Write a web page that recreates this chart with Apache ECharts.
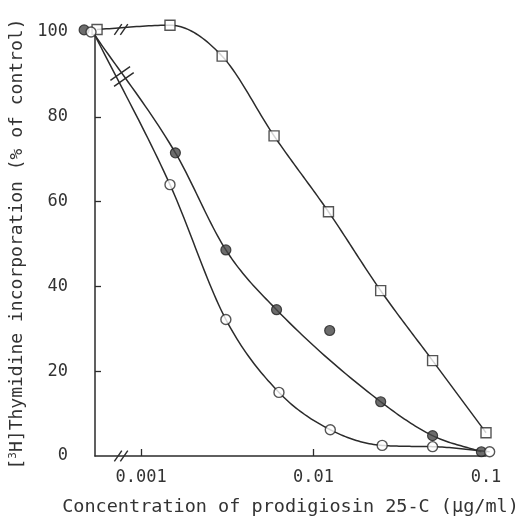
<!DOCTYPE html>
<html>
<head>
<meta charset="utf-8">
<script src="https://cdn.jsdelivr.net/npm/echarts@6/dist/echarts.min.js"></script>
<style>html,body{margin:0;padding:0;background:#fff}#c{width:527px;height:518px}</style>
</head>
<body>
<div id="c"></div>
<script>
// Concentrations (µg/ml) and % of control
const squareX = [0.000555, 0.00147, 0.00295, 0.0059, 0.0122, 0.0245, 0.049, 0.1];
const squareY = [100.6, 101.6, 94.3, 75.5, 57.6, 39, 22.5, 5.5];

// filled circles: first entry is the control at the axis (curve start)
const filledX = [0.00054, 0.00158, 0.0031, 0.0061, 0.0245, 0.049, 0.094];
const filledY = [99.2, 71.5, 48.6, 34.5, 12.8, 4.8, 1];
const filledOutlierX = [0.0124];
const filledOutlierY = [29.6];

// open circles: first entry is the control at the axis (curve start)
const openX = [0.00054, 0.00147, 0.0031, 0.0063, 0.0125, 0.025, 0.049, 0.105];
const openY = [99.2, 64, 32.2, 15, 6.2, 2.5, 2.2, 1];

// Control markers drawn at the axis (no drug)
const controlFilled = [[0.000467, 100.5]];
const controlOpen = [[0.000512, 100]];

const xTickValues = [0.001, 0.01, 0.1];
const xTickLabels = ['0.001', '0.01', '0.1'];
const xTickMarks = [0.001, 0.01];
const yTickValues = [20, 40, 60, 80];

// Axis/line break marks: [x, y]
const axisBreaks = [[0.000765, 0]];
const squareBreaks = [[0.000765, 100.6]];
const circleBreaks = [[0.000775, 89.5]];

const ink = '#2b2b2b';
const zip = (xs, ys) => xs.map((x, i) => [x, ys[i]]);

// monotone cubic (Fritsch-Carlson) through pixel points
function monotonePath(p) {
  const n = p.length;
  if (n < 2) return p;
  const d = [], m = new Array(n);
  for (let i = 0; i < n - 1; i++) d.push((p[i + 1][1] - p[i][1]) / (p[i + 1][0] - p[i][0]));
  m[0] = d[0]; m[n - 1] = d[n - 2];
  for (let i = 1; i < n - 1; i++) m[i] = (d[i - 1] * d[i] <= 0) ? 0 : (d[i - 1] + d[i]) / 2;
  for (let i = 0; i < n - 1; i++) {
    if (d[i] === 0) { m[i] = 0; m[i + 1] = 0; continue; }
    const a = m[i] / d[i], b = m[i + 1] / d[i], s = a * a + b * b;
    if (s > 9) { const t = 3 / Math.sqrt(s); m[i] = t * a * d[i]; m[i + 1] = t * b * d[i]; }
  }
  const out = [];
  for (let i = 0; i < n - 1; i++) {
    const x0 = p[i][0], x1 = p[i + 1][0], y0 = p[i][1], y1 = p[i + 1][1], h = x1 - x0;
    const steps = 24;
    for (let k = 0; k < steps; k++) {
      const t = k / steps, t2 = t * t, t3 = t2 * t;
      const h00 = 2 * t3 - 3 * t2 + 1, h10 = t3 - 2 * t2 + t, h01 = -2 * t3 + 3 * t2, h11 = t3 - t2;
      out.push([x0 + t * h, h00 * y0 + h10 * h * m[i] + h01 * y1 + h11 * h * m[i + 1]]);
    }
  }
  out.push(p[n - 1]);
  return out;
}

function curveSeries(xs, ys) {
  return {
    type: 'custom', coordinateSystem: 'cartesian2d', clip: false, silent: true, z: 2,
    data: zip(xs, ys),
    renderItem: function (params, api) {
      if (params.dataIndex !== 0) return null;
      const pts = xs.map((x, i) => api.coord([x, ys[i]]));
      return { type: 'polyline', shape: { points: monotonePath(pts) }, style: { stroke: ink, lineWidth: 1.5, fill: null } };
    }
  };
}

function breakSeries(data, angleDeg, len, gap, dir) {
  return {
    type: 'custom', coordinateSystem: 'cartesian2d', clip: false, silent: true, z: 5,
    data: data,
    renderItem: function (params, api) {
      const c = api.coord([api.value(0), api.value(1)]);
      const a = angleDeg * Math.PI / 180;
      const dx = Math.cos(a) * len / 2, dy = -Math.sin(a) * len / 2;
      const ox = dir[0] * gap / 2, oy = dir[1] * gap / 2;
      const mk = (s) => ({
        type: 'line',
        shape: { x1: c[0] + s * ox - dx, y1: c[1] + s * oy - dy, x2: c[0] + s * ox + dx, y2: c[1] + s * oy + dy },
        style: { stroke: ink, lineWidth: 1.4 }
      });
      return { type: 'group', children: [mk(-1), mk(1)] };
    }
  };
}

const markerOpen = { color: '#fff', borderColor: ink, borderWidth: 1.4 };
const markerFilled = { color: '#474747', borderColor: '#222', borderWidth: 1.2 };

const chart = echarts.init(document.getElementById('c'), null, { renderer: 'canvas' });
const font = 'DejaVu Sans Mono';
chart.setOption({
  animation: false,
  backgroundColor: '#fff',
  grid: { left: 95, right: 41, top: 32, bottom: 62, containLabel: false, outerBoundsMode: 'none' },
  xAxis: {
    type: 'log', min: 0.00054, max: 0.1, logBase: 10,
    axisLine: { show: true, lineStyle: { color: ink, width: 1.5 } },
    axisTick: { show: true, inside: true, length: 7, customValues: xTickMarks, lineStyle: { color: ink, width: 1.3 } },
    axisLabel: {
      show: true, customValues: xTickValues, margin: 13,
      formatter: function (v) {
        let best = 0;
        xTickValues.forEach((t, i) => { if (Math.abs(Math.log10(t) - Math.log10(v)) < Math.abs(Math.log10(xTickValues[best]) - Math.log10(v))) best = i; });
        return xTickLabels[best];
      },
      color: '#333', fontFamily: font, fontSize: 17
    },
    splitLine: { show: false }, minorTick: { show: false },
    name: 'Concentration of prodigiosin 25-C (μg/ml)',
    nameLocation: 'middle', nameGap: 42,
    nameTextStyle: { color: '#333', fontFamily: font, fontSize: 18.5 }
  },
  yAxis: {
    type: 'value', min: 0, max: 100, interval: 20,
    axisLine: { show: true, lineStyle: { color: ink, width: 1.5 } },
    axisTick: { show: true, inside: true, length: 6, customValues: yTickValues, lineStyle: { color: ink, width: 1.3 } },
    axisLabel: { color: '#333', fontFamily: font, fontSize: 17, margin: 27 },
    splitLine: { show: false },
    name: '[{sup|3}H]Thymidine incorporation (% of control)',
    nameLocation: 'middle', nameRotate: 90, nameGap: 64,
    nameTextStyle: {
      color: '#333', fontFamily: font, fontSize: 18,
      rich: { sup: { fontSize: 11, fontFamily: font, color: '#333', verticalAlign: 'top', padding: [0, 0, 8, 0] } }
    }
  },
  series: [
    curveSeries(squareX, squareY),
    curveSeries(filledX, filledY),
    curveSeries(openX, openY),
    { type: 'scatter', data: zip(squareX, squareY), clip: false, symbol: 'rect', symbolSize: 10, itemStyle: markerOpen, z: 3 },
    { type: 'scatter', data: zip(filledX.slice(1), filledY.slice(1)), clip: false, symbol: 'circle', symbolSize: 10, itemStyle: markerFilled, z: 3 },
    { type: 'scatter', data: zip(filledOutlierX, filledOutlierY), clip: false, symbol: 'circle', symbolSize: 10, itemStyle: markerFilled, z: 3 },
    { type: 'scatter', data: zip(openX.slice(1), openY.slice(1)), clip: false, symbol: 'circle', symbolSize: 10, itemStyle: markerOpen, z: 4 },
    { type: 'scatter', data: controlFilled, clip: false, symbol: 'circle', symbolSize: 10, itemStyle: markerFilled, z: 3 },
    { type: 'scatter', data: controlOpen, clip: false, symbol: 'circle', symbolSize: 10, itemStyle: markerOpen, z: 4 },
    breakSeries(axisBreaks, 55, 13, 6, [1, 0]),
    breakSeries(squareBreaks, 55, 13, 6, [1, 0]),
    breakSeries(circleBreaks, 35, 24, 7, [0.52, 0.85])
  ]
});
</script>
</body>
</html>
